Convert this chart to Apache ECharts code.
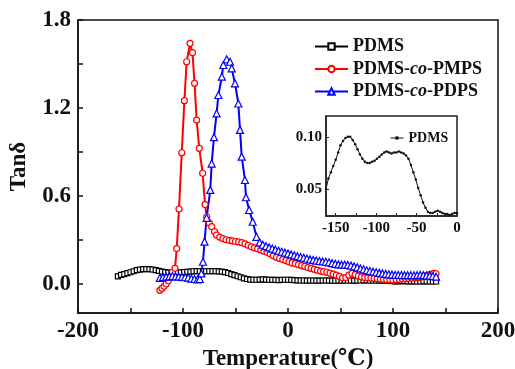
<!DOCTYPE html>
<html>
<head>
<meta charset="utf-8">
<script src="https://cdn.jsdelivr.net/npm/echarts@6/dist/echarts.min.js"></script>
<style>
  html, body { margin: 0; padding: 0; background: #fff; }
  #chart { width: 515px; height: 369px; }
</style>
</head>
<body>
<div id="chart"></div>
<script>
// Loss tangent (tan delta) versus temperature for three polysiloxanes.

const tempPDMS = [
  -162, -159, -156, -153, -150, -147, -144, -141, -138, -135, -132, -129, -126, -123, -120,
  -117, -114, -111, -108, -105, -102, -99, -96, -93, -90, -87, -84, -81, -78, -75, -72, -69,
  -66, -63, -60, -57, -54, -51, -48, -45, -42, -39, -36, -33, -30, -27, -24, -21, -18, -15,
  -12, -9, -6, -3, 0, 3, 6, 9, 12, 15, 18, 21, 24, 27, 30, 33, 36, 39, 42, 45, 48, 51, 54,
  57, 60, 63, 66, 69, 72, 75, 78, 81, 84, 87, 90, 93, 96, 99, 102, 105, 108, 111, 114, 117,
  120, 123, 126, 129, 132, 135, 138, 141
];
const tanPDMS = [
  0.050, 0.060, 0.066, 0.072, 0.078, 0.085, 0.092, 0.096, 0.099, 0.100, 0.100, 0.097, 0.093, 0.088, 0.083,
  0.079, 0.076, 0.075, 0.075, 0.076, 0.077, 0.079, 0.081, 0.083, 0.085, 0.086, 0.085, 0.084, 0.085, 0.085, 0.086, 0.085,
  0.084, 0.082, 0.079, 0.073, 0.066, 0.059, 0.051, 0.044, 0.037, 0.032, 0.028, 0.027, 0.027, 0.028, 0.029, 0.028, 0.027, 0.026,
  0.026, 0.025, 0.026, 0.027, 0.027, 0.026, 0.024, 0.023, 0.022, 0.022, 0.021, 0.022, 0.022, 0.021, 0.021, 0.022, 0.022, 0.021, 0.021, 0.020, 0.021, 0.021, 0.022,
  0.022, 0.021, 0.021, 0.022, 0.022, 0.023, 0.023, 0.022, 0.022, 0.022, 0.021, 0.021, 0.020, 0.019, 0.018, 0.016, 0.016, 0.017, 0.017, 0.016, 0.016,
  0.016, 0.015, 0.015, 0.016, 0.016, 0.015, 0.015, 0.015
];

const tempPMPS = [
  -122, -120, -118, -116, -114, -112, -110, -107.6, -106, -103.8, -101.2, -98.7, -96.5, -93.3,
  -91, -89, -87, -84.5, -81.3, -79, -77.4, -75, -72.7, -70, -68, -65, -62, -59, -56, -53, -50,
  -47, -44, -41, -38, -35, -32, -29, -26, -23, -20, -17, -14, -11, -8, -5, -2, 1, 4, 7, 10, 13,
  16, 19, 22, 25, 28, 31, 34, 37, 40, 43, 46, 49, 52, 55, 58, 61, 64, 67, 70, 73, 76, 79, 82,
  85, 88, 91, 94, 97, 100, 103, 106, 109, 112, 115, 118, 121, 124, 127, 130, 133, 136, 139, 141
];
const tanPMPS = [
  -0.045, -0.032, -0.018, -0.002, 0.020, 0.050, 0.080, 0.105, 0.240, 0.510, 0.894, 1.249, 1.515, 1.641,
  1.577, 1.368, 1.117, 0.924, 0.754, 0.540, 0.457, 0.415, 0.389, 0.355, 0.332, 0.318, 0.308, 0.300, 0.296, 0.292, 0.288,
  0.285, 0.280, 0.272, 0.262, 0.252, 0.245, 0.238, 0.230, 0.222, 0.214, 0.204, 0.190, 0.180, 0.172, 0.165, 0.158, 0.150, 0.142, 0.137, 0.130, 0.124,
  0.118, 0.110, 0.104, 0.098, 0.092, 0.086, 0.082, 0.078, 0.072, 0.066, 0.058, 0.050, 0.040, 0.042, 0.058, 0.070, 0.062, 0.052, 0.046, 0.042, 0.040, 0.038, 0.036,
  0.034, 0.032, 0.030, 0.028, 0.027, 0.026, 0.028, 0.030, 0.032, 0.034, 0.036, 0.038, 0.040, 0.043, 0.047, 0.052, 0.058, 0.065, 0.070, 0.068
];

const tempPDPS = [
  -122, -119, -116, -113, -110, -107, -104, -101, -98, -95, -92, -89, -86, -84, -82.5, -81, -79.5,
  -77.5, -74, -72.7, -70.5, -68, -66.3, -63, -61.6, -58.4, -55.2, -53.6, -50.5, -47.3, -45.7,
  -44.1, -41, -40, -37, -33.6, -30, -27, -24, -21, -18, -15, -12, -9, -6, -3, 0, 3, 6, 9, 12,
  15, 18, 21, 24, 27, 30, 33, 36, 39, 42, 45, 48, 51, 54, 57, 60, 63, 66, 69, 72, 75, 78, 81,
  84, 87, 90, 93, 96, 99, 102, 105, 108, 111, 114, 117, 120, 123, 126, 129, 132, 135, 138, 141
];
const tanPDPS = [
  0.040, 0.045, 0.048, 0.050, 0.052, 0.050, 0.048, 0.046, 0.044, 0.042, 0.035, 0.032, 0.030, 0.032, 0.070, 0.150, 0.287,
  0.450, 0.640, 0.820, 1.000, 1.163, 1.288, 1.413, 1.493, 1.532, 1.515, 1.470, 1.368, 1.230, 1.050,
  0.867, 0.708, 0.590, 0.503, 0.423, 0.320, 0.282, 0.266, 0.256, 0.248, 0.240, 0.232, 0.225, 0.218, 0.212, 0.206, 0.200, 0.194, 0.188, 0.182,
  0.177, 0.172, 0.166, 0.162, 0.158, 0.155, 0.152, 0.150, 0.146, 0.140, 0.136, 0.132, 0.130, 0.130, 0.128, 0.124, 0.118, 0.112, 0.104, 0.098, 0.092, 0.086, 0.082,
  0.078, 0.074, 0.070, 0.067, 0.064, 0.062, 0.060, 0.060, 0.059, 0.058, 0.058, 0.058, 0.057, 0.058, 0.060, 0.058, 0.056, 0.055, 0.052, 0.048
];

// Axis tick and label positions
const xTicks = [-200, -150, -100, -50, 0, 50, 100, 150, 200];
const xLabels = [-200, -100, 0, 100, 200];
const yTicks = [0, 0.3, 0.6, 0.9, 1.2, 1.5, 1.8];
const yLabels = [0, 0.6, 1.2, 1.8];
const insetXTicks = [-150, -125, -100, -75, -50, -25, 0];
const insetXLabels = [-150, -100, -50, 0];
const insetYLabels = [0.05, 0.10];

const zip = (xs, ys) => xs.map((x, i) => [x, ys[i]]);
const insetPDMS = zip(tempPDMS, tanPDMS).filter(p => p[0] <= 0);

const FONT = "'Liberation Serif', 'DejaVu Serif', serif";
const INK = '#111';

const chart = echarts.init(document.getElementById('chart'), null, { renderer: 'canvas' });

const lineSeries = (name, data, color, symbol, size) => ({
  name, type: 'line', data,
  xAxisIndex: 0, yAxisIndex: 0,
  symbol, symbolSize: size, showAllSymbol: true,
  lineStyle: { color, width: 2 },
  itemStyle: { color: '#fff', borderColor: color, borderWidth: 1.2 },
  emphasis: { disabled: true },
  animation: false, z: 2
});

chart.setOption({
  backgroundColor: '#fff',
  animation: false,
  grid: [
    { left: 78, top: 20, width: 420, height: 293, outerBoundsMode: 'none', containLabel: false,
      show: true, borderColor: INK, borderWidth: 1.5, backgroundColor: 'transparent' },
    { left: 326, top: 116, width: 131, height: 100, outerBoundsMode: 'none', containLabel: false,
      show: true, borderColor: '#222', borderWidth: 1.5, backgroundColor: '#fff', z: 5 }
  ],
  legend: [
    {
      data: ['PDMS', 'PDMS-co-PMPS', 'PDMS-co-PDPS'],
      orient: 'vertical', left: 309, top: 32,
      itemWidth: 33, itemHeight: 8, itemGap: 3.5,
      selectedMode: false,
      formatter: n => n.replace('-co-', '-{it|co}-'),
      textStyle: {
        fontFamily: FONT, fontWeight: 'bold', fontSize: 18, color: INK, lineHeight: 19,
        rich: { it: { fontFamily: FONT, fontWeight: 'bold', fontStyle: 'italic', fontSize: 18, color: INK, lineHeight: 19 } }
      }
    },
    {
      data: [{ name: 'PDMS', itemStyle: { color: INK, borderWidth: 0 }, lineStyle: { width: 1, color: INK } }],
      left: 385, top: 126, itemWidth: 13, itemHeight: 4, selectedMode: false, z: 6,
      textStyle: { fontFamily: FONT, fontWeight: 'bold', fontSize: 14, color: INK }
    }
  ],
  xAxis: [
    {
      gridIndex: 0, type: 'value', min: -200, max: 200,
      axisLine: { onZero: false, lineStyle: { color: INK, width: 1.5 } },
      axisTick: { inside: true, length: 5, customValues: xTicks, lineStyle: { color: INK, width: 1.5 } },
      axisLabel: { customValues: xLabels, margin: 7, fontFamily: FONT, fontWeight: 'bold', fontSize: 23, color: INK },
      splitLine: { show: false },
      name: 'Temperature(℃)', nameLocation: 'middle', nameGap: 31,
      nameTextStyle: { fontFamily: FONT, fontWeight: 'bold', fontSize: 23, color: INK }
    },
    {
      gridIndex: 1, type: 'value', min: -162, max: 0,
      axisLine: { onZero: false, lineStyle: { color: '#222', width: 1.5 } },
      axisTick: { inside: true, length: 3, customValues: insetXTicks, lineStyle: { color: '#222' } },
      axisLabel: { customValues: insetXLabels, margin: 5, fontFamily: FONT, fontWeight: 'bold', fontSize: 15, color: INK },
      splitLine: { show: false }, z: 6
    }
  ],
  yAxis: [
    {
      gridIndex: 0, type: 'value', min: -0.2, max: 1.8,
      axisLine: { onZero: false, lineStyle: { color: INK, width: 1.5 } },
      axisTick: { inside: true, length: 5, customValues: yTicks, lineStyle: { color: INK, width: 1.5 } },
      axisLabel: { customValues: yLabels, margin: 7, formatter: v => v.toFixed(1), fontFamily: FONT, fontWeight: 'bold', fontSize: 23, color: INK },
      splitLine: { show: false },
      name: 'Tanδ', nameLocation: 'middle', nameGap: 47,
      nameTextStyle: { fontFamily: FONT, fontWeight: 'bold', fontSize: 23, color: INK }
    },
    {
      gridIndex: 1, type: 'value', min: 0.024, max: 0.12,
      axisLine: { onZero: false, lineStyle: { color: '#222', width: 1.5 } },
      axisTick: { inside: true, length: 3, customValues: insetYLabels, lineStyle: { color: '#222' } },
      axisLabel: { customValues: insetYLabels, margin: 4, formatter: v => v.toFixed(2), fontFamily: FONT, fontWeight: 'bold', fontSize: 15, color: INK },
      splitLine: { show: false }, z: 6
    }
  ],
  series: [
    lineSeries('PDMS', zip(tempPDMS, tanPDMS), '#000', 'rect', 5),
    lineSeries('PDMS-co-PMPS', zip(tempPMPS, tanPMPS), '#ff0000', 'circle', 6),
    lineSeries('PDMS-co-PDPS', zip(tempPDPS, tanPDPS), '#0000ff', 'triangle', 7),
    {
      name: 'PDMS', type: 'line', data: insetPDMS,
      xAxisIndex: 1, yAxisIndex: 1,
      symbol: 'circle', symbolSize: 2.5, showAllSymbol: true,
      lineStyle: { color: INK, width: 1 },
      itemStyle: { color: INK },
      emphasis: { disabled: true }, z: 7
    }
  ]
});
</script>
</body>
</html>
